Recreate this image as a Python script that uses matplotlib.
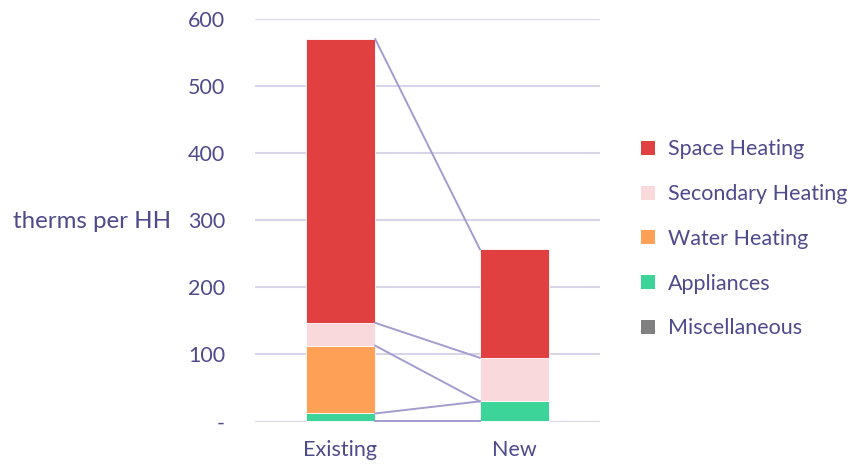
import matplotlib
matplotlib.use("Agg")
import matplotlib.pyplot as plt
import numpy as np
from matplotlib.patches import Patch

plt.rcParams['font.family'] = ['Lato', 'DejaVu Sans']

categories = ["Existing", "New"]
series_names = ["Miscellaneous", "Appliances", "Water Heating", "Secondary Heating", "Space Heating"]
misc = [1, 1]
appliances = [11, 29]
water = [101, 0]
secondary = [34, 65]
space = [423, 162]
colors = ["#808080", "#3dd49a", "#fea157", "#f9d9dc", "#e04040"]
yticks = [0, 100, 200, 300, 400, 500, 600]
yticklabels = ["-", "100", "200", "300", "400", "500", "600"]

txt = "#4f4a8c"
fs = 15.5
fig = plt.figure(figsize=(8.54, 4.67), dpi=100)
ax = fig.add_axes([255/854, (467-421.5)/467, 345/854, (421.5-19)/467])

x = np.arange(len(categories))
width = 0.40
bottom = np.zeros(len(categories))
series = [misc, appliances, water, secondary, space]
tops = []
for vals, c, name in zip(series, colors, series_names):
    vals = np.array(vals, dtype=float)
    ax.bar(x, vals, width, bottom=bottom, color=c, edgecolor="white", linewidth=0.6, zorder=3)
    bottom = bottom + vals
    tops.append(bottom.copy())

for t in tops:
    ax.plot([x[0] + width/2, x[1] - width/2], [t[0], t[1]], color="#a29dce", lw=1.4, zorder=4)

ax.set_xlim(-0.49, 1.49)
ax.set_ylim(0, 600)
ax.set_yticks(yticks)
ax.set_yticklabels(yticklabels)
ax.set_xticks(x)
ax.set_xticklabels(categories)
ax.grid(axis="y", color="#d9d5e8", lw=1.5, zorder=0)
ax.set_axisbelow(True)
for s in ax.spines.values():
    s.set_visible(False)
ax.tick_params(axis="both", length=0, labelsize=fs, labelcolor=txt)
ax.tick_params(axis="y", pad=21.6)
ax.tick_params(axis="x", pad=13)
for lbl in ax.get_yticklabels():
    lbl.set_clip_on(False)

fig.text(13/854, 1 - 221/467, "therms per HH", fontsize=17.3, color=txt, va="center", ha="left")

handles = [Patch(facecolor=c, edgecolor="none") for c in colors][::-1]
labels = series_names[::-1]
leg = fig.legend(handles, labels, loc="upper left", bbox_to_anchor=(622/854, 1 - 120/467),
                 frameon=False, fontsize=fs, handlelength=0.62, handleheight=0.62,
                 labelspacing=1.15, handletextpad=0.6, labelcolor=txt)

fig.savefig("out.png", dpi=100)
